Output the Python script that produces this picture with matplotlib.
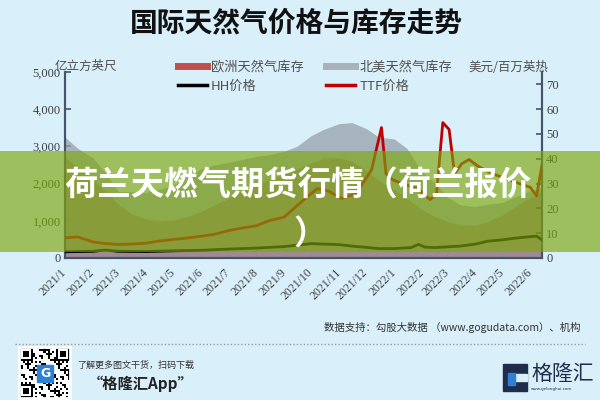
import pandas as pd
import numpy as np
import matplotlib.pyplot as plt
from matplotlib.patches import Rectangle
from matplotlib.lines import Line2D

plt.rcParams['font.family'] = ['Noto Sans CJK SC', 'DejaVu Sans']

# 北美天然气库存 (亿立方英尺)
us_dates = ['2021-01-01', '2021-01-15', '2021-02-01', '2021-02-15', '2021-03-01', '2021-03-15',
            '2021-04-01', '2021-04-15', '2021-05-01', '2021-05-15', '2021-06-01', '2021-06-15',
            '2021-07-01', '2021-07-15', '2021-08-01', '2021-08-15', '2021-09-01', '2021-09-15',
            '2021-10-01', '2021-10-15', '2021-11-01', '2021-11-15', '2021-12-01', '2021-12-15',
            '2022-01-01', '2022-01-15', '2022-02-01', '2022-02-15', '2022-03-01', '2022-03-15',
            '2022-04-01', '2022-04-15', '2022-05-01', '2022-05-15', '2022-06-01', '2022-06-14']
us_storage = [3250, 2950, 2690, 2280, 1790, 1780, 1760, 1840, 1960, 2160, 2400, 2500,
              2570, 2640, 2730, 2770, 2870, 3000, 3290, 3460, 3610, 3640, 3480, 3250,
              3200, 2950, 2320, 2020, 1640, 1430, 1380, 1450, 1490, 1640, 1810, 1900]

# 欧洲天然气库存 (亿立方英尺)
eu_storage = [2700, 2450, 2100, 1800, 1450, 1200, 1050, 1000, 1020, 1100, 1250, 1420,
              1600, 1780, 1950, 2100, 2250, 2400, 2550, 2680, 2700, 2600, 2350, 2080,
              1850, 1600, 1300, 1120, 980, 900, 880, 980, 1150, 1380, 1620, 1800]

# TTF价格 (美元/百万英热)
ttf_dates = ['2021-01-01', '2021-01-15', '2021-02-01', '2021-02-15', '2021-03-01', '2021-03-15',
             '2021-04-01', '2021-04-15', '2021-05-01', '2021-05-15', '2021-06-01', '2021-06-15',
             '2021-07-01', '2021-07-15', '2021-08-01', '2021-08-15', '2021-09-01', '2021-09-15',
             '2021-10-01', '2021-10-08', '2021-10-20', '2021-11-04', '2021-11-20', '2021-12-07',
             '2021-12-18', '2021-12-23', '2021-12-30', '2022-01-10', '2022-01-27', '2022-02-10',
             '2022-02-17', '2022-02-24', '2022-03-03', '2022-03-09', '2022-03-17', '2022-03-25',
             '2022-04-05', '2022-04-20', '2022-05-05', '2022-05-20', '2022-06-01', '2022-06-08',
             '2022-06-14']
ttf_price = [8.1, 8.5, 6.5, 5.8, 5.5, 5.6, 6.0, 6.8, 7.5, 8.0, 8.8, 9.5,
             11.0, 12.0, 13.0, 15.0, 16.5, 21.0, 26.0, 28.0, 27.0, 24.0, 26.0, 35.6,
             52.6, 34.0, 31.6, 30.0, 28.0, 23.5, 26.0, 54.6, 51.8, 34.0, 38.0, 39.7,
             36.8, 34.0, 32.0, 30.0, 28.5, 25.0, 37.5]

# HH价格 (美元/百万英热)
hh_dates = ['2021-01-01', '2021-02-01', '2021-02-15', '2021-03-01', '2021-04-01', '2021-05-01',
            '2021-06-01', '2021-07-01', '2021-08-01', '2021-09-01', '2021-10-01', '2021-10-15',
            '2021-11-01', '2021-11-15', '2021-12-01', '2021-12-15', '2022-01-01', '2022-01-20',
            '2022-01-28', '2022-02-04', '2022-02-15', '2022-03-01', '2022-03-15', '2022-04-01',
            '2022-04-15', '2022-05-01', '2022-05-15', '2022-06-01', '2022-06-08', '2022-06-14']
hh_price = [2.5, 2.7, 3.2, 2.7, 2.6, 2.9, 3.1, 3.6, 4.0, 4.6, 5.8, 5.6,
            5.4, 4.8, 4.3, 3.8, 3.8, 4.2, 5.5, 4.4, 4.2, 4.5, 4.8, 5.6,
            6.8, 7.3, 8.0, 8.6, 8.8, 7.3]

month_ticks = pd.date_range('2021-01-01', '2022-06-01', freq='MS')
month_labels = [f"{d.year}/{d.month}" for d in month_ticks]
left_ticks = [0, 1000, 2000, 3000, 4000, 5000]
right_ticks = [0, 10, 20, 30, 40, 50, 60, 70]

bg = '#d9eff9'
axis_color = '#44546a'
num_font = ['Liberation Serif', 'Noto Sans CJK SC']

fig = plt.figure(figsize=(6, 4), dpi=100)
fig.patch.set_facecolor(bg)

W, H = 600, 400
def fx(px):
    return px / W
def fy(py):
    return 1 - py / H

ax = fig.add_axes([fx(65), fy(258), (542 - 65) / W, (258 - 72) / H])
ax.set_facecolor('none')

us_x = pd.to_datetime(us_dates)
ax.fill_between(us_x, eu_storage, color='#c0504d', linewidth=0, zorder=1)
ax.fill_between(us_x, us_storage, color='#96a0ab', alpha=0.75, linewidth=0, zorder=2)

ax.set_xlim(pd.Timestamp('2021-01-01'), pd.Timestamp('2022-06-14'))
ax.set_ylim(0, 5000)
ax.set_yticks(left_ticks)
ax.set_yticklabels([f"{v:,}" for v in left_ticks], family=num_font, fontsize=9, color='#404040')
ax.set_xticks(month_ticks)
ax.set_xticklabels(month_labels, rotation=45, ha='right', va='center', rotation_mode='anchor',
                   family=num_font, fontsize=8.5, color='#404040')
ax.tick_params(axis='x', direction='in', length=3, color=axis_color, pad=9)
ax.tick_params(axis='y', direction='in', length=4, width=1.2, color=axis_color, pad=3)

ax2 = ax.twinx()
ax2.plot(pd.to_datetime(hh_dates), hh_price, color='black', linewidth=2, zorder=3)
ax2.plot(pd.to_datetime(ttf_dates), ttf_price, color='#c00000', linewidth=2, zorder=3)
ax2.set_ylim(0, 75)
ax2.set_yticks(right_ticks)
ax2.set_yticklabels([str(v) for v in right_ticks], family=num_font, fontsize=9, color='#404040')
ax2.tick_params(axis='y', direction='in', length=4, width=1.2, color=axis_color, pad=3)

for a in (ax, ax2):
    a.spines['top'].set_visible(False)
    for s in ('left', 'right', 'bottom'):
        a.spines[s].set_color(axis_color)
        a.spines[s].set_linewidth(1.5)

# legend
handles = [
    Line2D([0], [0], color='#c0504d', linewidth=5),
    Line2D([0], [0], color='black', linewidth=2.5),
    Line2D([0], [0], color='#a9b1b9', linewidth=5),
    Line2D([0], [0], color='#c00000', linewidth=2.5),
]
labels = ['欧洲天然气库存', 'HH价格', '北美天然气库存', 'TTF价格']
fig.legend(handles, labels, loc='upper left', bbox_to_anchor=(fx(178), fy(61)), ncol=2,
           frameon=False, fontsize=9.5, handlelength=2.2, handletextpad=0.3,
           columnspacing=1.7, labelspacing=0.45, borderpad=0, borderaxespad=0,
           labelcolor='#505050')

# axis titles and chart title
fig.text(fx(55), fy(66), '亿立方英尺', fontsize=9, color='#505050', ha='left', va='center')
fig.text(fx(468), fy(67), '美元/百万英热', fontsize=9, color='#505050', ha='left', va='center')
fig.text(fx(296), fy(23), '国际天然气价格与库存走势', fontsize=20, fontweight='bold',
         color='#111111', ha='center', va='center')

# source line
fig.text(fx(580), fy(327), '数据支持：勾股大数据 （www.gogudata.com）、机构', fontsize=7.5,
         color='#333333', ha='right', va='center')
fig.add_artist(Line2D([fx(15), fx(585)], [fy(344), fy(344)], color='#9a9a9a', linewidth=1,
                      linestyle=(0, (1, 1.5))))

# QR code block
qr_ax = fig.add_axes([fx(18), fy(398), 52 / W, 51 / H])
n = 25
ii, jj = np.meshgrid(np.arange(n), np.arange(n), indexing='ij')
qr = ((ii * 7 + jj * 11 + (ii * jj) % 5) % 3 == 0).astype(float)
for (r, c) in [(0, 0), (0, n - 7), (n - 7, 0)]:
    qr[r:r + 7, c:c + 7] = 1
    qr[r + 1:r + 6, c + 1:c + 6] = 0
    qr[r + 2:r + 5, c + 2:c + 5] = 1
qr_ax.imshow(1 - qr, cmap='gray', interpolation='nearest', vmin=0, vmax=1)
qr_ax.add_patch(Rectangle((8.5, 8.5), 8, 8, color='#2f7fd6', zorder=3))
qr_ax.text(12.5, 12.6, 'G', color='white', fontsize=9, fontweight='bold', ha='center', va='center',
           family='DejaVu Sans', zorder=4)
qr_ax.set_xticks([])
qr_ax.set_yticks([])
for s in qr_ax.spines.values():
    s.set_color('white')
    s.set_linewidth(2)

fig.text(fx(77), fy(365), '了解更多图文干货，扫码下载', fontsize=6.5, color='#333333',
         ha='left', va='center', style='italic')
fig.text(fx(88), fy(384), '“格隆汇App”', fontsize=11, fontweight='bold', color='#222222',
         ha='left', va='center', style='italic')

# logo
fig.add_artist(Rectangle((fx(503), fy(391)), 24 / W, 27 / H, color='#1f2d4d'))
fig.add_artist(Rectangle((fx(514), fy(381)), 13 / W, 7 / H, color=bg))
fig.add_artist(Rectangle((fx(508), fy(385)), 7 / W, 12 / H, color='#2f7fd6'))
fig.text(fx(531), fy(374), '格隆汇', fontsize=15, color='#1f2d4d', ha='left', va='center')
fig.text(fx(531), fy(389), 'www.gelonghui.com', fontsize=3, color='#1f2d4d', ha='left', va='center',
         family='DejaVu Sans')

# green overlay banner
fig.add_artist(Rectangle((0, fy(252)), 1, (252 - 151) / H, color='#7da60a', alpha=0.65,
                         linewidth=0, zorder=5))
fig.text(fx(298), fy(186), '荷兰天燃气期货行情（荷兰报价', fontsize=24, fontweight='bold',
         color='white', ha='center', va='center', zorder=6)
fig.text(fx(310), fy(234), '）', fontsize=24, fontweight='bold',
         color='white', ha='center', va='center', zorder=6)

fig.savefig('out.png', dpi=100, facecolor=bg)
